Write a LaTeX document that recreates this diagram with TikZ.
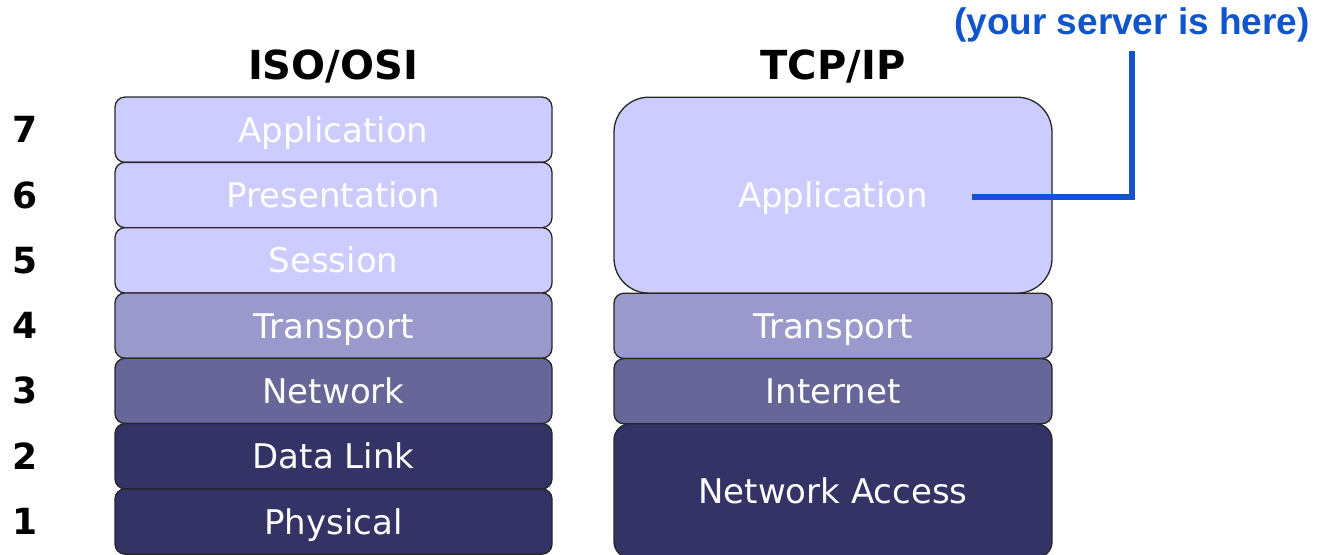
\documentclass[tikz,border=0pt]{standalone}
\usepackage{fontspec}
\newfontfamily\layerfont{DejaVu Sans}
\newfontfamily\notefont{Liberation Sans}
\usetikzlibrary{positioning}
\definecolor{osilite}{HTML}{CCCCFF}
\definecolor{osimid}{HTML}{9999CC}
\definecolor{osidark}{HTML}{666699}
\definecolor{osideep}{HTML}{333366}
\definecolor{srvblue}{HTML}{1155CC}

\begin{document}
\begin{tikzpicture}[
  x=1pt, y=-1pt,
  layer/.style={draw=black!85, line width=1.3pt, rounded corners=10pt,
    minimum width=437pt, minimum height=65.3pt, inner sep=0pt, outer sep=0pt,
    text=white, text height=25pt, text depth=0pt,
    font=\layerfont\fontsize{34}{40}\selectfont},
  colhead/.style={inner sep=0pt, text height=29pt, text depth=0pt,
    font=\layerfont\bfseries\fontsize{40}{46}\selectfont},
  num/.style={inner sep=0pt, text height=26pt, text depth=0pt,
    font=\layerfont\bfseries\fontsize{36}{42}\selectfont},
  note/.style={inner sep=0pt, text=srvblue,
    font=\notefont\bfseries\fontsize{37}{44}\selectfont},
  pointer/.style={draw=srvblue, line width=6pt},
]
  \useasboundingbox (0,0) rectangle (1321,554);

  % ISO/OSI stack
  \node[layer, fill=osilite] (app) at (333.5,129.7) {Application};
  \node[layer, fill=osilite, below=0pt of app] (pres) {Presentation};
  \node[layer, fill=osilite, below=0pt of pres] (sess) {Session};
  \node[layer, fill=osimid, below=0pt of sess] (trans) {Transport};
  \node[layer, fill=osidark, below=0pt of trans] (net) {Network};
  \node[layer, fill=osideep, below=0pt of net] (link) {Data Link};
  \node[layer, fill=osideep, below=0pt of link] (phys) {Physical};

  % TCP/IP stack
  \node[layer, fill=osilite, minimum width=438pt, minimum height=196pt,
    rounded corners=35pt] (tapp) at (833,195.2) {Application};
  \node[layer, fill=osimid, minimum width=438pt, below=0pt of tapp] (ttrans) {Transport};
  \node[layer, fill=osidark, minimum width=438pt, below=0pt of ttrans] (tinet) {Internet};
  \node[layer, fill=osideep, minimum width=438pt, minimum height=134pt,
    rounded corners=16pt, below=0pt of tinet] (tacc) {Network Access};

  % headings and layer numbers
  \node[colhead] (iso) at (333,65) {ISO/OSI};
  \node[colhead] (tcp) at (833,65) {TCP/IP};
  \node[num] (n7) at (25,0 |- app) {7};
  \node[num] (n6) at (25,0 |- pres) {6};
  \node[num] (n5) at (25,0 |- sess) {5};
  \node[num] (n4) at (25,0 |- trans) {4};
  \node[num] (n3) at (25,0 |- net) {3};
  \node[num] (n2) at (25,0 |- link) {2};
  \node[num] (n1) at (25,0 |- phys) {1};

  % server note
  \node[note] (srv) at (1132,25) {(your server is here)};
  \coordinate (here) at (972,197);
  \draw[pointer, shorten >=9pt] (here) -| (srv.south);
\end{tikzpicture}
\end{document}
